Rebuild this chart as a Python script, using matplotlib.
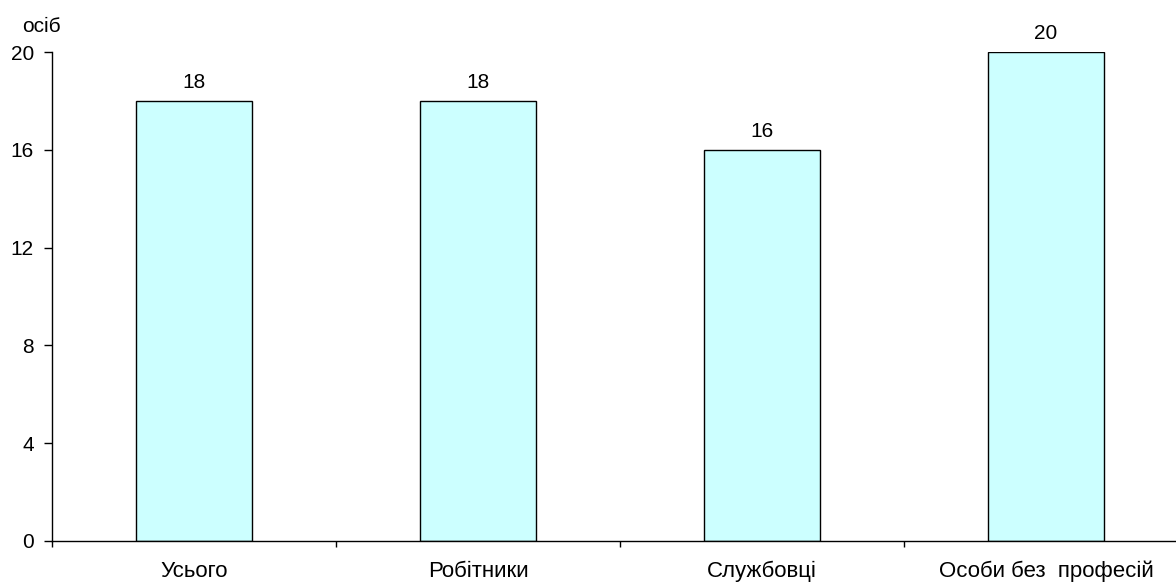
import matplotlib
matplotlib.use("Agg")
import matplotlib.pyplot as plt

categories = ["Усього", "Робітники", "Службовці", "Особи без  професій"]
values = [18, 18, 16, 20]
yticks = [0, 4, 8, 12, 16, 20]
unit_label = "осіб"

plt.rcParams['font.family'] = ['Liberation Sans', 'DejaVu Sans']

W, H = 1176, 582
DPI = 100
PT = 72 / DPI  # points per pixel
fig = plt.figure(figsize=(W/DPI, H/DPI), dpi=DPI)
x0, x1 = 52, 1188
y0, y1 = 541, 52
ax = fig.add_axes([x0/W, 1 - y0/H, (x1-x0)/W, (y0-y1)/H])

pos = list(range(len(categories)))
ax.bar(pos, values, width=0.405, color="#CCFFFF", edgecolor="black", linewidth=1.0, zorder=2)
for p, v in zip(pos, values):
    ax.annotate(f"{v}", xy=(p, v), xytext=(0, 13*PT), textcoords="offset points",
                ha="center", va="baseline", fontsize=15)

ax.set_xlim(-0.5, len(categories) - 0.5)
ax.set_ylim(0, 20)
ax.set_yticks(yticks)
ax.set_yticklabels([str(t) for t in yticks], fontsize=15)
ax.set_xticks([p + 0.5 for p in pos[:-1]] + [-0.5])
ax.set_xticklabels([])
ax.tick_params(axis='y', direction='out', length=8*PT, width=1, pad=10*PT)
ax.tick_params(axis='x', direction='out', length=6*PT, width=1)
for p, c in zip(pos, categories):
    ax.annotate(c, xy=(p, 0), xytext=(0, -36*PT), textcoords="offset points",
                ha="center", va="baseline", fontsize=16, annotation_clip=False)

for s in ["top", "right"]:
    ax.spines[s].set_visible(False)
ax.spines["left"].set_linewidth(1)
ax.spines["bottom"].set_linewidth(1)

fig.text(22/W, 1 - 32/H, unit_label, ha="left", va="baseline", fontsize=15)

fig.savefig("out.png", dpi=DPI)
